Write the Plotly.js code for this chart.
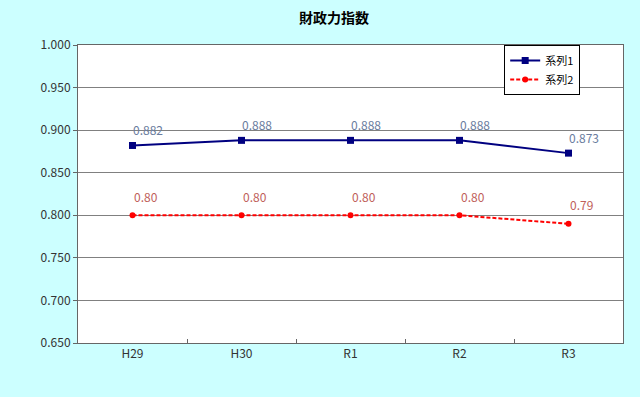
<!DOCTYPE html>
<html>
<head>
<meta charset="utf-8">
<script src="https://cdn.plot.ly/plotly-3.0.1.min.js"></script>
<style>html,body{margin:0;padding:0;background:#CCFFFF;}#chart{width:640px;height:397px;}</style>
</head>
<body>
<div id="chart"></div>
<script>
const categories = ["H29", "H30", "R1", "R2", "R3"];
const series1 = [0.882, 0.888, 0.888, 0.888, 0.873];
const series2 = [0.80, 0.80, 0.80, 0.80, 0.79];
const series1Labels = ["0.882", "0.888", "0.888", "0.888", "0.873"];
const series2Labels = ["0.80", "0.80", "0.80", "0.80", "0.79"];
const yTickVals = [0.65, 0.70, 0.75, 0.80, 0.85, 0.90, 0.95, 1.00];

const font = "'Noto Sans CJK JP', 'DejaVu Sans', sans-serif";

const traces = [
  {x: categories, y: series1, name: "系列1", type: "scatter", mode: "lines+markers",
   line: {color: "#000080", width: 2}, marker: {symbol: "square", size: 7, color: "#000080"}},
  {x: categories, y: series2, name: "系列2", type: "scatter", mode: "lines+markers",
   line: {color: "#FF0000", width: 2, dash: "4px,2px"}, marker: {symbol: "circle", size: 6, color: "#FF0000"}}
];

const annotations = [];
categories.forEach((c, i) => {
  annotations.push({x: c, y: series1[i], text: series1Labels[i], showarrow: false, xanchor: "left", xshift: -2, yshift: 16,
    font: {family: font, size: 12, color: "#6A7C9E"}});
  annotations.push({x: c, y: series2[i], text: series2Labels[i], showarrow: false, xanchor: "left", xshift: -1, yshift: 19,
    font: {family: font, size: 12, color: "#C0605A"}});
});

const layout = {
  width: 640, height: 397,
  paper_bgcolor: "#CCFFFF", plot_bgcolor: "#FFFFFF",
  margin: {l: 78, r: 17, t: 45, b: 54},
  title: {text: "<b>財政力指数</b>", font: {family: font, size: 14, color: "#000"}, xref: "container", x: 0.522, xanchor: "center", y: 0.955, yanchor: "middle"},
  font: {family: font, size: 11, color: "#333"},
  xaxis: {type: "category", tickson: "boundaries", ticks: "inside", ticklen: 4, tickcolor: "#666",
    showline: true, linecolor: "#666", linewidth: 1, mirror: true, showgrid: false, range: [-0.5, 4.5],
    tickfont: {family: font, size: 12, color: "#333"}},
  yaxis: {range: [0.65, 1.0], tickvals: yTickVals, tickformat: ".3f", ticks: "outside", ticklen: 4, tickcolor: "#666",
    showline: true, linecolor: "#666", linewidth: 1, mirror: true, gridcolor: "#808080", gridwidth: 1, zeroline: false,
    tickfont: {family: font, size: 12, color: "#333"}},
  legend: {x: 0.782, y: 1.0, xanchor: "left", yanchor: "top", bgcolor: "#FFFFFF", bordercolor: "#000", borderwidth: 1,
    font: {family: font, size: 11, color: "#000"}, tracegroupgap: 0, itemwidth: 30},
  annotations: annotations,
  showlegend: true
};

Plotly.newPlot("chart", traces, layout, {displayModeBar: false, staticPlot: true});
</script>
</body>
</html>
